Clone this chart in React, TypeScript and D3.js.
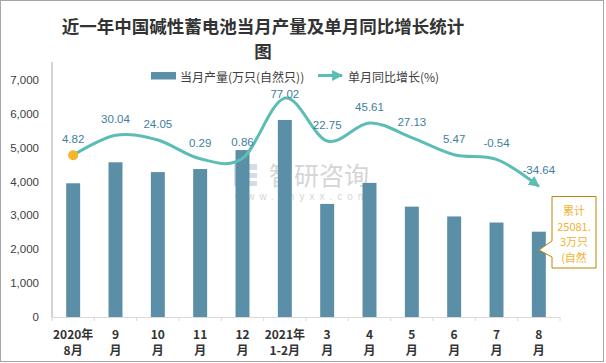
import React from 'react';
import * as d3 from 'd3';

// categories (two-line tick labels)
const monthTop = ['2020年', '9', '10', '11', '12', '2021年', '3', '4', '5', '6', '7', '8'];
const monthBottom = ['8月', '月', '月', '月', '月', '1-2月', '月', '月', '月', '月', '月', '月'];

// 当月产量 (万只(自然只))
const output = [3950, 4570, 4280, 4370, 4930, 5820, 3340, 3960, 3260, 2970, 2790, 2520];
// 单月同比增长 (%)
const growth = [4.82, 30.04, 24.05, 0.29, 0.86, 77.02, 22.75, 45.61, 27.13, 5.47, -0.54, -34.64];

const yTicks = [0, 1000, 2000, 3000, 4000, 5000, 6000, 7000];
const calloutLines = ['累计', '25081.', '3万只', '(自然'];

const W = 606;
const H = 363;
const left = 52;
const right = 560;
const top = 80;
const bottom = 317;

const BAR = '#5B8FA7';
const LINE = '#5CBDB5';
const LABEL = '#40809F';
const TEXT = '#404040';
const FONT = "'Liberation Sans', 'Noto Sans CJK SC', sans-serif";
const CJK = "'Noto Sans CJK SC', sans-serif";

const App = () => {
  const idx = output.map((_, i) => i);

  const x = d3.scaleBand<number>().domain(idx).range([left, right]).paddingInner(0.67).paddingOuter(0.335);
  const step = x.step();
  const cx = (i: number) => (x(i) as number) + x.bandwidth() / 2;

  const y = d3.scaleLinear().domain([0, 7000]).range([bottom, top]);
  // hidden secondary axis for the growth line
  const y2 = d3.scaleLinear().domain([-200, 100]).range([bottom, top]);

  const linePath = d3
    .line<number>()
    .x((_, i) => cx(i))
    .y((d) => y2(d))
    .curve(d3.curveCardinal.tension(0))(growth);

  const tickXs = d3.range(idx.length + 1).map((i) => left + i * step);

  return (
    <svg width={W} height={H} style={{ position: 'absolute', left: 0, top: 0, background: '#fff' }}>
      <defs>
        <marker id="arrow" viewBox="0 0 10 10" refX="9" refY="5" markerWidth="11" markerHeight="11"
          markerUnits="userSpaceOnUse" orient="auto">
          <path d="M0,0 L10,5 L0,10 z" fill={LINE} />
        </marker>
        <clipPath id="callClip">
          <rect x={552} y={197} width={44} height={70} />
        </clipPath>
      </defs>

      <rect x={0.5} y={0.5} width={603} height={361} fill="#fff" stroke="#A6A6A6" />

      {/* title */}
      <text x={263} y={25} textAnchor="middle" dominantBaseline="central" fontFamily={CJK}
        fontWeight="bold" fontSize={17.5} fill="#333">
        近一年中国碱性蓄电池当月产量及单月同比增长统计
      </text>
      <text x={263} y={50} textAnchor="middle" dominantBaseline="central" fontFamily={CJK}
        fontWeight="bold" fontSize={17.5} fill="#333">
        图
      </text>

      {/* legend */}
      <rect x={151} y={72} width={25} height={7.5} fill={BAR} />
      <text x={180} y={76} dominantBaseline="central" fontFamily={CJK} fontSize={12} fill={TEXT}>
        当月产量(万只(自然只))
      </text>
      <line x1={318} x2={342} y1={75.5} y2={75.5} stroke={LINE} strokeWidth={3} markerEnd="url(#arrow)" />
      <text x={348} y={76} dominantBaseline="central" fontFamily={CJK} fontSize={12} fill={TEXT}>
        单月同比增长(%)
      </text>

      {/* y axis */}
      <line x1={left} x2={left} y1={top - 18} y2={bottom} stroke="#A6A6A6" />
      {yTicks.map((t) => (
        <text key={t} x={39} y={y(t)} textAnchor="end" dominantBaseline="central" fontFamily={FONT}
          fontSize={11.5} fill={TEXT}>
          {d3.format(',')(t)}
        </text>
      ))}

      {/* watermark */}
      <g opacity={0.35}>
        <rect x={234} y={164} width={9} height={22} fill="#7f9fc0" />
        <rect x={245} y={164} width={12} height={6} fill="#7f9fc0" />
        <rect x={245} y={173} width={12} height={5} fill="#7f9fc0" />
        <rect x={245} y={181} width={12} height={5} fill="#7f9fc0" />
        <text x={319} y={174} textAnchor="middle" dominantBaseline="central" fontFamily={CJK}
          fontSize={25} fill="#888">
          智研咨询
        </text>
        <text x={303} y={196} textAnchor="middle" dominantBaseline="central" fontFamily={FONT}
          fontSize={10} letterSpacing={5} fill="#888">
          www.chyxx.com
        </text>
      </g>

      {/* bars */}
      {output.map((v, i) => (
        <rect key={i} x={x(i)} y={y(v)} width={x.bandwidth()} height={bottom - y(v)} fill={BAR} />
      ))}

      {/* x axis */}
      <line x1={left} x2={right} y1={bottom + 0.5} y2={bottom + 0.5} stroke="#D9D9D9" />
      {tickXs.map((tx, i) => (
        <line key={i} x1={tx} x2={tx} y1={bottom} y2={bottom + 4} stroke="#D9D9D9" />
      ))}
      {idx.map((i) => (
        <g key={i} fontFamily={CJK} fontWeight="bold" fontSize={12} fill="#333" textAnchor="middle">
          <text x={cx(i)} y={333} dominantBaseline="central">{monthTop[i]}</text>
          <text x={cx(i)} y={349} dominantBaseline="central">{monthBottom[i]}</text>
        </g>
      ))}

      {/* growth line */}
      <path d={linePath || ''} fill="none" stroke={LINE} strokeWidth={3} markerEnd="url(#arrow)" />
      <circle cx={cx(0)} cy={y2(growth[0])} r={5} fill="#F5B52A" />
      {growth.map((g, i) => (
        <text key={i} x={cx(i)} y={Math.max(y2(g) - 16, 94)} textAnchor="middle" dominantBaseline="central"
          fontFamily={FONT} fontSize={11.5} fill={LABEL}>
          {g.toFixed(2)}
        </text>
      ))}

      {/* callout */}
      <path d="M552,196.5 H596 V268 H552 V257 L539,250 L552,241 Z" fill="#fff" stroke="#B8860B" />
      <g clipPath="url(#callClip)">
        {calloutLines.map((s, i) => (
          <text key={i} x={574} y={210 + i * 15.7} textAnchor="middle" dominantBaseline="central"
            fontFamily={CJK} fontSize={11} fill="#F2B233">
            {s}
          </text>
        ))}
      </g>
    </svg>
  );
};

export default App;
